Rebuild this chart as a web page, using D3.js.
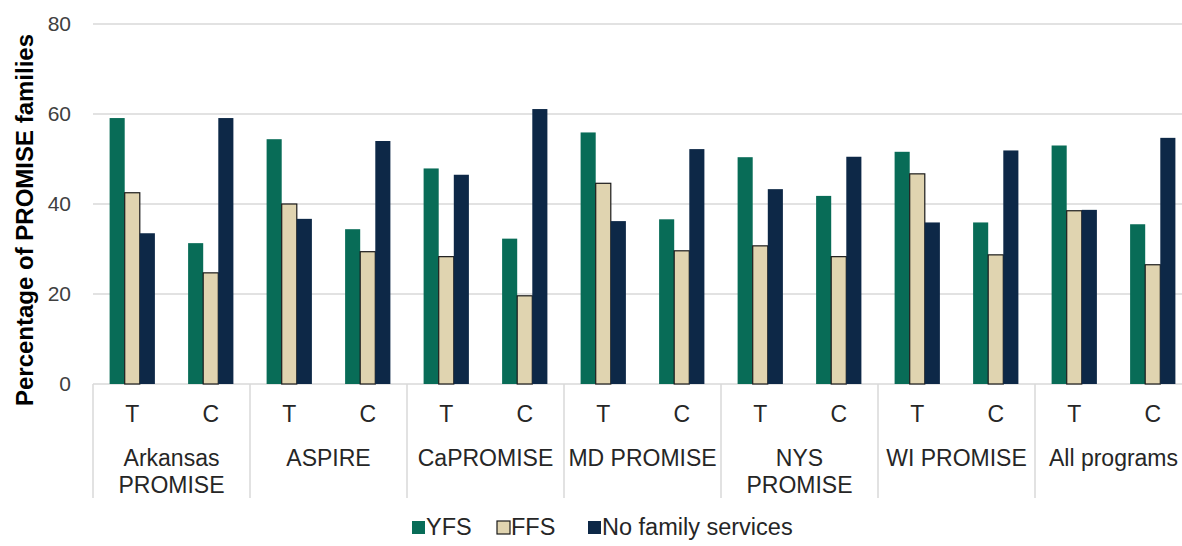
<!DOCTYPE html>
<html lang="en">
<head>
    <meta charset="UTF-8">
    <title>PROMISE family services</title>
    <script src="https://d3js.org/d3.v7.min.js"></script>
    <style>
        body {
            margin: 0;
            background-color: white;
            overflow: hidden;
        }
        text {
            font-family: "Liberation Sans", Arial, sans-serif;
        }
    </style>
</head>
<body>
    <svg id="chart" width="1182" height="546"></svg>
    <script>
        // data
        const programs = ["Arkansas\nPROMISE", "ASPIRE", "CaPROMISE", "MD PROMISE", "NYS\nPROMISE", "WI PROMISE", "All programs"];
        const arms = ["T", "C"];
        const seriesNames = ["YFS", "FFS", "No family services"];
        const seriesColors = ["#086c57", "#e0d4b0", "#0d2847"];

        // one row per program: [T, C]
        const yfs = [[59.1, 31.3], [54.4, 34.4], [47.9, 32.3], [55.9, 36.6], [50.4, 41.8], [51.6, 35.9], [53.0, 35.5]];
        const ffs = [[42.5, 24.7], [40.0, 29.4], [28.3, 19.6], [44.6, 29.6], [30.7, 28.3], [46.7, 28.7], [38.5, 26.5]];
        const noServices = [[33.5, 59.1], [36.7, 54.0], [46.5, 61.1], [36.2, 52.2], [43.3, 50.5], [35.9, 51.9], [38.7, 54.7]];
        const yTicks = [0, 20, 40, 60, 80];

        const allSeries = [yfs, ffs, noServices];

        const svg = d3.select("#chart");
        const plotLeft = 93, plotRight = 1192, plotTop = 24, plotBottom = 384;

        const y = d3.scaleLinear().domain([0, 80]).range([plotBottom, plotTop]);
        const xGroup = d3.scaleBand().domain(d3.range(programs.length)).range([plotLeft, plotRight]);
        const xArm = d3.scaleBand().domain(arms).range([0, xGroup.bandwidth()]);
        const xSeries = d3.scaleBand().domain(d3.range(3)).range([0, xArm.bandwidth()]).paddingOuter(1.1);

        // gridlines
        svg.append("g")
            .selectAll("line")
            .data(yTicks)
            .join("line")
            .attr("x1", plotLeft)
            .attr("x2", plotRight)
            .attr("y1", d => y(d))
            .attr("y2", d => y(d))
            .attr("stroke", "#d9d9d9")
            .attr("stroke-width", 1.5);

        // y tick labels
        svg.append("g")
            .selectAll("text")
            .data(yTicks)
            .join("text")
            .attr("x", 71)
            .attr("y", d => y(d) + 7)
            .attr("text-anchor", "end")
            .attr("fill", "#404040")
            .style("font-size", "21px")
            .text(d => d);

        // y title
        svg.append("text")
            .attr("transform", `translate(33,${(plotTop + plotBottom) / 2 + 16}) rotate(-90)`)
            .attr("text-anchor", "middle")
            .attr("fill", "#000")
            .style("font-size", "24px")
            .style("font-weight", "bold")
            .text("Percentage of PROMISE families");

        // bars
        const bars = [];
        programs.forEach((p, gi) => {
            arms.forEach((a, ai) => {
                allSeries.forEach((s, si) => {
                    bars.push({ gi: gi, arm: a, si: si, value: s[gi][ai] });
                });
            });
        });

        svg.append("g")
            .selectAll("rect")
            .data(bars)
            .join("rect")
            .attr("x", d => xGroup(d.gi) + xArm(d.arm) + xSeries(d.si))
            .attr("y", d => y(d.value))
            .attr("width", xSeries.bandwidth())
            .attr("height", d => y(0) - y(d.value))
            .attr("fill", d => seriesColors[d.si])
            .attr("stroke", d => d.si === 1 ? "#1a1a1a" : "none")
            .attr("stroke-width", 1.2);

        // category separators
        const seps = d3.range(programs.length + 1).map(i => i < programs.length ? xGroup(i) : plotRight);
        svg.append("g")
            .selectAll("line")
            .data(seps)
            .join("line")
            .attr("x1", d => d)
            .attr("x2", d => d)
            .attr("y1", plotBottom)
            .attr("y2", 498)
            .attr("stroke", "#d9d9d9")
            .attr("stroke-width", 1.5);

        // T / C labels
        const armLabels = [];
        programs.forEach((p, gi) => arms.forEach(a => armLabels.push({ gi: gi, arm: a })));
        svg.append("g")
            .selectAll("text")
            .data(armLabels)
            .join("text")
            .attr("x", d => xGroup(d.gi) + xArm(d.arm) + xArm.bandwidth() / 2)
            .attr("y", 422)
            .attr("text-anchor", "middle")
            .attr("fill", "#262626")
            .style("font-size", "23px")
            .text(d => d.arm);

        // program labels
        const groupText = svg.append("g")
            .selectAll("text")
            .data(programs)
            .join("text")
            .attr("x", (d, i) => xGroup(i) + xGroup.bandwidth() / 2)
            .attr("y", 466)
            .attr("text-anchor", "middle")
            .attr("fill", "#262626")
            .style("font-size", "23px");
        groupText.each(function(d, i) {
            const lines = d.split("\n");
            d3.select(this).selectAll("tspan")
                .data(lines)
                .join("tspan")
                .attr("x", xGroup(i) + xGroup.bandwidth() / 2)
                .attr("dy", (l, li) => li === 0 ? 0 : 27)
                .text(l => l);
        });

        // legend
        const legendX = [412, 497, 588];
        const legend = svg.append("g")
            .selectAll("g")
            .data(seriesNames)
            .join("g")
            .attr("transform", (d, i) => `translate(${legendX[i]},521)`);
        legend.append("rect")
            .attr("width", 13)
            .attr("height", 13)
            .attr("fill", (d, i) => seriesColors[i])
            .attr("stroke", (d, i) => i === 1 ? "#1a1a1a" : "none")
            .attr("stroke-width", 1.2);
        legend.append("text")
            .attr("x", 14)
            .attr("y", 14)
            .attr("fill", "#262626")
            .style("font-size", "23.5px")
            .text(d => d);
    </script>
</body>
</html>
